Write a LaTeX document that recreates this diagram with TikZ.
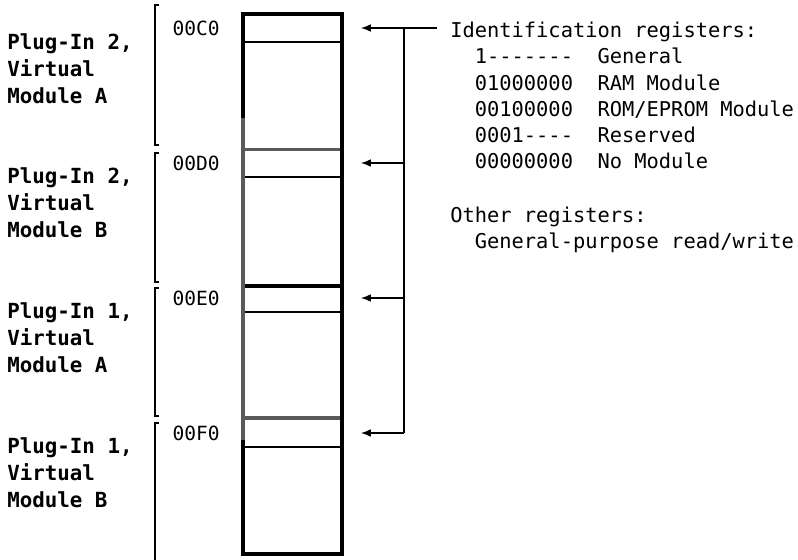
\documentclass[tikz,border=0pt]{standalone}
\usepackage{fontspec}
\setmonofont{DejaVu Sans Mono}
\usetikzlibrary{arrows.meta}
\definecolor{scanGray}{HTML}{5A5A5A}

\begin{document}
\begin{tikzpicture}[x=0.025cm, y=-0.025cm,
  lbl/.style={font=\ttfamily\bfseries\fontsize{14.8}{19.2}\selectfont, align=left, inner sep=0, anchor=west},
  addr/.style={font=\ttfamily\fontsize{13.9}{16}\selectfont, inner sep=0, anchor=east},
  reg/.style={font=\ttfamily\fontsize{14.5}{18.6}\selectfont, inner sep=0, anchor=base west},
  wall/.style={line width=3pt},
  divthick/.style={line width=2.3pt},
  divthin/.style={line width=0.9pt},
  brk/.style={line width=1pt},
  arr/.style={-{Latex[length=7pt, width=5.5pt]}, line width=0.9pt}
]
\useasboundingbox (0,0) rectangle (798,560);

% module names
\node[lbl] (modA2) at (7,69)  {Plug-In 2,\\Virtual\\Module A};
\node[lbl] (modB2) at (7,203) {Plug-In 2,\\Virtual\\Module B};
\node[lbl] (modA1) at (7,338) {Plug-In 1,\\Virtual\\Module A};
\node[lbl] (modB1) at (7,473) {Plug-In 1,\\Virtual\\Module B};

% brackets
\draw[brk] (159,5) -- (155,5) -- (155,145) -- (159,145);
\draw[brk] (159,153) -- (155,153) -- (155,282) -- (159,282);
\draw[brk] (159,288) -- (155,288) -- (155,416) -- (159,416);
\draw[brk] (159,423) -- (155,423) -- (155,560);

% addresses
\node[addr] (adrC) at (220,28)  {00C0};
\node[addr] (adrD) at (220,163) {00D0};
\node[addr] (adrE) at (220,298) {00E0};
\node[addr] (adrF) at (220,433) {00F0};

% register column
\draw[divthin] (243,42) -- (342,42);
\draw[divthick, scanGray] (243,149.5) -- (342,149.5);
\draw[divthin] (243,177) -- (342,177);
\draw[divthick] (243,286) -- (342,286);
\draw[divthin] (243,312) -- (342,312);
\draw[divthick, scanGray] (243,418) -- (342,418);
\draw[divthin] (243,447) -- (342,447);
\draw[wall] (243,14) rectangle (342,554);
\draw[wall, scanGray] (243,118) -- (243,440);

% bus and arrows
\coordinate (busC) at (404,28);
\coordinate (busD) at (404,163);
\coordinate (busE) at (404,298);
\coordinate (busF) at (404,433);
\coordinate (tipC) at (361,28);
\coordinate (tipD) at (361,163);
\coordinate (tipE) at (361,298);
\coordinate (tipF) at (361,433);

% register descriptions
\node[reg] (idreg) at (450,37.4) {Identification registers:};
\node[reg] (gen)   at (450,63.9) {\phantom{00}1-------~~General};
\node[reg] (ram)   at (450,90.1) {\phantom{00}01000000~~RAM Module};
\node[reg] (rom)   at (450,116.4) {\phantom{00}00100000~~ROM/EPROM Module};
\node[reg] (rsv)   at (450,142.4) {\phantom{00}0001----~~Reserved};
\node[reg] (nomod) at (450,168.9) {\phantom{00}00000000~~No Module};
\node[reg] (other) at (450,222.4) {Other registers:};
\node[reg] (gprw)  at (450,248.6) {\phantom{00}General-purpose read/write};

\draw[divthin] (busC) -- (busF);
\draw[divthin, shorten >=9pt] (busC) -- (busC -| idreg.west);
\draw[arr] (busC) -- (tipC);
\draw[arr] (busD) -- (tipD);
\draw[arr] (busE) -- (tipE);
\draw[arr] (busF) -- (tipF);
\end{tikzpicture}
\end{document}
